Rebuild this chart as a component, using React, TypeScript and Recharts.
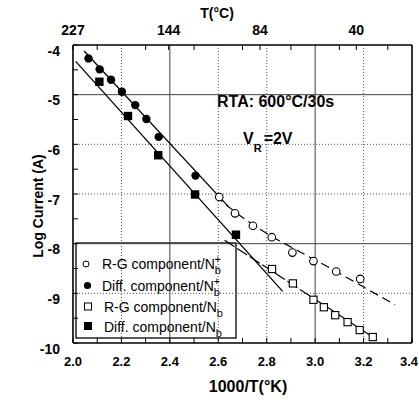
import React from 'react';
import { ComposedChart, Scatter, XAxis, YAxis, ReferenceLine } from 'recharts';

const FONT = '"Liberation Sans", Arial, Helvetica, sans-serif';

// ---- measured data (1000/T in 1/K, log10 current in A) ----
const rgNbPlusX = [2.604, 2.669, 2.743, 2.821, 2.906, 2.993, 3.087, 3.186];
const rgNbPlusY = [-7.06, -7.39, -7.64, -7.87, -8.18, -8.35, -8.56, -8.71];

const diffNbPlusX = [2.064, 2.11, 2.157, 2.202, 2.257, 2.303, 2.354, 2.506];
const diffNbPlusY = [-4.27, -4.49, -4.7, -4.94, -5.21, -5.49, -5.85, -6.63];

const rgNbX = [2.822, 2.908, 2.993, 3.036, 3.083, 3.134, 3.184, 3.238];
const rgNbY = [-8.51, -8.8, -9.13, -9.28, -9.44, -9.58, -9.74, -9.88];

const diffNbX = [2.109, 2.227, 2.352, 2.504, 2.673];
const diffNbY = [-4.74, -5.43, -6.22, -7.01, -7.82];

// ---- fitted lines ----
const fitDiffNbPlusX = [2.046, 2.641];
const fitDiffNbPlusY = [-4.12, -7.25];
const fitDiffNbX = [2.011, 2.866];
const fitDiffNbY = [-4.33, -8.96];
const fitRgNbPlusX = [2.587, 2.674, 2.743, 2.825, 3.05, 3.33];
const fitRgNbPlusY = [-7.04, -7.38, -7.62, -7.87, -8.46, -9.23];
const fitRgNbX = [2.626, 3.251];
const fitRgNbY = [-7.93, -9.92];

// ---- axes ----
const xMajorTicks = [2.0, 2.2, 2.4, 2.6, 2.8, 3.0, 3.2, 3.4];
const xMinorTicks = [2.1, 2.3, 2.5, 2.7, 2.9, 3.1, 3.3];
const yMajorTicks = [-10, -9, -8, -7, -6, -5, -4];
const yMinorTicks = [-9.5, -8.5, -7.5, -6.5, -5.5, -4.5];
const topTempLabels = ['227', '144', '84', '40'];
const topTempPos = [2.0, 2.395, 2.772, 3.17];
const xSolidGrid = [2.4, 3.0];
const xDottedGrid = [2.2, 2.6, 2.8, 3.2];
const ySolidGrid = [-5, -8];
const yDottedGrid = [-9, -7, -6];

const legendLabels = ['R-G component/N', 'Diff. component/N', 'R-G component/N', 'Diff. component/N'];
const legendSup = ['+', '+', '', ''];

const zip = (xs: number[], ys: number[]) => xs.map((x, i) => ({ x, y: ys[i] }));

const rgNbPlus = zip(rgNbPlusX, rgNbPlusY);
const diffNbPlus = zip(diffNbPlusX, diffNbPlusY);
const rgNb = zip(rgNbX, rgNbY);
const diffNb = zip(diffNbX, diffNbY);
const fitDiffNbPlus = zip(fitDiffNbPlusX, fitDiffNbPlusY);
const fitDiffNb = zip(fitDiffNbX, fitDiffNbY);
const fitRgNbPlus = zip(fitRgNbPlusX, fitRgNbPlusY);
const fitRgNb = zip(fitRgNbX, fitRgNbY);

const allXTicks = [...xMajorTicks, ...xMinorTicks].sort((a, b) => a - b);
const allYTicks = [...yMajorTicks, ...yMinorTicks].sort((a, b) => a - b);
const topTicks = [...topTempPos, ...xMinorTicks].sort((a, b) => a - b);

const isMajorX = (v: number) => xMajorTicks.some((t) => Math.abs(t - v) < 1e-6);
const isMajorY = (v: number) => yMajorTicks.some((t) => Math.abs(t - v) < 1e-6);
const topLabel = (v: number) => {
  const i = topTempPos.findIndex((t) => Math.abs(t - v) < 1e-6);
  return i >= 0 ? topTempLabels[i] : '';
};

const bold = { fontFamily: FONT, fontWeight: 700, fill: '#000' };

const TOP_LABEL_BASELINE = 35;

const BottomTick = (p: any) =>
  isMajorX(p.payload.value) ? (
    <text x={Math.min(p.x, 409)} y={p.y + 28} textAnchor="middle" fontSize={13} {...bold}>
      {p.payload.value.toFixed(1)}
    </text>
  ) : (
    <g />
  );

const TopTick = (p: any) => {
  const l = topLabel(p.payload.value);
  return l ? (
    <text x={p.x} y={TOP_LABEL_BASELINE} textAnchor="middle" fontSize={14} {...bold}>
      {l}
    </text>
  ) : (
    <g />
  );
};

const LeftTick = (p: any) =>
  isMajorY(p.payload.value) ? (
    <text x={p.x - 18} y={p.y + 10.5} textAnchor="end" fontSize={14} {...bold}>
      {String(p.payload.value)}
    </text>
  ) : (
    <g />
  );

const NoShape = () => <g />;
const OpenCircle = (p: any) => <circle cx={p.cx} cy={p.cy} r={3.8} fill="#fff" stroke="#000" strokeWidth={1.1} />;
const FilledCircle = (p: any) => <circle cx={p.cx} cy={p.cy} r={4.2} fill="#000" stroke="none" />;
const OpenSquare = (p: any) => (
  <rect x={p.cx - 3.6} y={p.cy - 3.6} width={7.2} height={7.2} fill="#fff" stroke="#000" strokeWidth={1.1} />
);
const FilledSquare = (p: any) => <rect x={p.cx - 4.2} y={p.cy - 4.2} width={8.4} height={8.4} fill="#000" />;

const axisLine = { stroke: '#000', strokeWidth: 1.6 };
const tickLine = { stroke: '#000', strokeWidth: 1 };

const LegendBox = () => {
  const rowsY = [269, 290.5, 311.5, 331.5];
  const markers = [
    <circle key="m0" cx={86} cy={rowsY[0] - 5} r={3} fill="#fff" stroke="#000" strokeWidth={1} />,
    <circle key="m1" cx={87.5} cy={rowsY[1] - 5} r={3.6} fill="#000" />,
    <rect key="m2" x={84.5} y={rowsY[2] - 8.5} width={7} height={7} fill="#fff" stroke="#000" strokeWidth={1} />,
    <rect key="m3" x={84} y={rowsY[3] - 9.5} width={8} height={8} fill="#000" />,
  ];
  const textX = [102, 102, 104, 104];
  return (
    <g>
      <rect x={76} y={243} width={160} height={95} fill="#fff" stroke="#000" strokeWidth={1.3} />
      {markers}
      {legendLabels.map((l, i) => (
        <text key={i} x={textX[i]} y={rowsY[i]} fontSize={14} fontFamily={FONT} fill="#000">
          {l}
          <tspan dy={5} fontSize={11}>b</tspan>
          {legendSup[i] ? (
            <tspan dx={-6.5} dy={-11} fontSize={11}>
              {legendSup[i]}
            </tspan>
          ) : null}
        </text>
      ))}
    </g>
  );
};

export default function App() {
  return (
    <div style={{ position: 'absolute', left: 0, top: 0, width: 419, height: 400, background: '#fff' }}>
      <ComposedChart width={419} height={400} margin={{ top: 0, right: 0, bottom: 0, left: 0 }}>
        <XAxis
          xAxisId="b"
          type="number"
          dataKey="x"
          domain={[2, 3.4]}
          ticks={allXTicks}
          interval={0}
          height={57}
          tickSize={-5}
          tickMargin={0}
          tick={BottomTick}
          axisLine={axisLine}
          tickLine={tickLine}
          allowDataOverflow
        />
        <XAxis
          xAxisId="t"
          orientation="top"
          type="number"
          dataKey="x"
          domain={[2, 3.4]}
          ticks={topTicks}
          interval={0}
          height={45}
          tickSize={-5}
          tickMargin={0}
          tick={TopTick}
          axisLine={axisLine}
          tickLine={tickLine}
          allowDataOverflow
        />
        <YAxis
          yAxisId="l"
          type="number"
          dataKey="y"
          domain={[-10, -4]}
          ticks={allYTicks}
          interval={0}
          width={73}
          tickSize={-5}
          tickMargin={0}
          tick={LeftTick}
          axisLine={axisLine}
          tickLine={tickLine}
          allowDataOverflow
        />
        <YAxis
          yAxisId="r"
          orientation="right"
          type="number"
          dataKey="y"
          domain={[-10, -4]}
          ticks={allYTicks}
          interval={0}
          width={7}
          tickSize={-5}
          tick={false}
          axisLine={axisLine}
          tickLine={tickLine}
          allowDataOverflow
        />

        {xDottedGrid.map((v) => (
          <ReferenceLine key={'xd' + v} xAxisId="b" yAxisId="l" x={v} stroke="#555" strokeWidth={1} strokeDasharray="1 2" />
        ))}
        {yDottedGrid.map((v) => (
          <ReferenceLine key={'yd' + v} xAxisId="b" yAxisId="l" y={v} stroke="#555" strokeWidth={1} strokeDasharray="1 2" />
        ))}
        {xSolidGrid.map((v) => (
          <ReferenceLine key={'xs' + v} xAxisId="b" yAxisId="l" x={v} stroke="#444" strokeWidth={1} />
        ))}
        {ySolidGrid.map((v) => (
          <ReferenceLine key={'ys' + v} xAxisId="b" yAxisId="l" y={v} stroke="#444" strokeWidth={1} />
        ))}

        {/* invisible twin of a series, binding the top and right frame axes */}
        <Scatter xAxisId="t" yAxisId="r" data={diffNbPlus} shape={NoShape} legendType="none" isAnimationActive={false} />

        <Scatter xAxisId="b" yAxisId="l" data={fitDiffNbPlus} line={{ stroke: '#000', strokeWidth: 1.3 }} shape={NoShape} isAnimationActive={false} />
        <Scatter xAxisId="b" yAxisId="l" data={fitDiffNb} line={{ stroke: '#000', strokeWidth: 1.3 }} shape={NoShape} isAnimationActive={false} />
        <Scatter xAxisId="b" yAxisId="l" data={fitRgNbPlus} line={{ stroke: '#000', strokeWidth: 1.2, strokeDasharray: '9 5' }} shape={NoShape} isAnimationActive={false} />
        <Scatter xAxisId="b" yAxisId="l" data={fitRgNb} line={{ stroke: '#000', strokeWidth: 1.2, strokeDasharray: '12 3' }} shape={NoShape} isAnimationActive={false} />

        <Scatter xAxisId="b" yAxisId="l" name="R-G component/Nb+" data={rgNbPlus} shape={OpenCircle} isAnimationActive={false} />
        <Scatter xAxisId="b" yAxisId="l" name="Diff. component/Nb+" data={diffNbPlus} shape={FilledCircle} isAnimationActive={false} />
        <Scatter xAxisId="b" yAxisId="l" name="R-G component/Nb" data={rgNb} shape={OpenSquare} isAnimationActive={false} />
        <Scatter xAxisId="b" yAxisId="l" name="Diff. component/Nb" data={diffNb} shape={FilledSquare} isAnimationActive={false} />

        <text x={217} y={18} textAnchor="middle" fontSize={14} {...bold}>T(°C)</text>
        <text x={248} y={392} textAnchor="middle" fontSize={16} {...bold}>1000/T(°K)</text>
        <text x={43} y={206} textAnchor="middle" fontSize={14} transform="rotate(-90 43 206)" {...bold}>
          Log Current (A)
        </text>
        <text x={217} y={107} fontSize={16} {...bold}>RTA: 600°C/30s</text>
        <text x={243} y={143.5} fontSize={16} {...bold}>
          V<tspan dy={8} fontSize={11}>R</tspan>
          <tspan dx={2} dy={-8}>=2V</tspan>
        </text>
        <LegendBox />
      </ComposedChart>
    </div>
  );
}
